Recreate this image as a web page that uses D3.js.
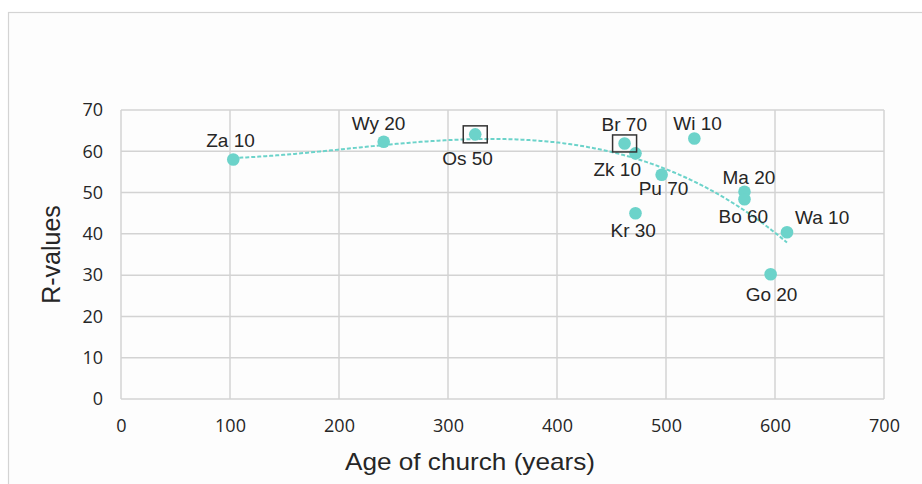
<!DOCTYPE html>
<html>
<head>
<meta charset="utf-8">
<script src="https://cdn.jsdelivr.net/npm/d3@7"></script>
<style>
  html, body { margin: 0; padding: 0; background: #ffffff; }
  svg { display: block; }
</style>
</head>
<body>
<svg id="chart" width="922" height="484"></svg>
<script>
// Church sites: code, sample count, age (years) and R-value
const sites    = ["Za", "Wy", "Os", "Br", "Zk", "Wi", "Pu", "Ma", "Bo", "Kr", "Wa", "Go"];
const counts   = [10, 20, 50, 70, 10, 10, 70, 20, 60, 30, 10, 20];
const ages     = [103, 241, 325, 462, 472, 526, 496, 572, 572, 472, 611, 596];
const rValues  = [58.0, 62.3, 64.1, 61.9, 59.5, 63.1, 54.3, 50.2, 48.4, 45.0, 40.4, 30.2];
const boxed    = ["Os", "Br"];
const xTicks   = [0, 100, 200, 300, 400, 500, 600, 700];
const yTicks   = [0, 10, 20, 30, 40, 50, 60, 70];

// label placement relative to each marker (dx, dy of text start/baseline)
const labelOffsets = {
  Za: [-27, -13], Wy: [-32, -12], Os: [-33, 31], Br: [-23, -12],
  Zk: [-42, 23], Wi: [-21, -8], Pu: [-23, 20], Ma: [-22, -8],
  Bo: [-26, 24], Kr: [-25, 24], Wa: [8, -8], Go: [-25, 27]
};

const svg = d3.select("#chart");
const teal = "#6cd3ca";
const grid = "#d3d3d3";
const ink = "#262626";

// outer panel
svg.append("rect")
  .attr("x", 8.5).attr("y", 12.5).attr("width", 940).attr("height", 500)
  .attr("fill", "#fdfdfd").attr("stroke", "#d4d4d4").attr("stroke-width", 1.2);

const plot = { left: 121, right: 884, top: 110, bottom: 399 };
const x = d3.scaleLinear().domain([0, 700]).range([plot.left, plot.right]);
const y = d3.scaleLinear().domain([0, 70]).range([plot.bottom, plot.top]);

// gridlines
svg.append("g").selectAll("line").data(yTicks).join("line")
  .attr("x1", plot.left).attr("x2", plot.right)
  .attr("y1", d => y(d)).attr("y2", d => y(d))
  .attr("stroke", grid).attr("stroke-width", 1.5);
svg.append("g").selectAll("line").data(xTicks).join("line")
  .attr("x1", d => x(d)).attr("x2", d => x(d))
  .attr("y1", plot.top).attr("y2", plot.bottom)
  .attr("stroke", grid).attr("stroke-width", 1.5);

// axes (labels only, lines are the gridlines)
const xAxis = svg.append("g").attr("transform", `translate(0,${plot.bottom})`)
  .call(d3.axisBottom(x).tickValues(xTicks).tickSize(0).tickPadding(20));
const yAxis = svg.append("g").attr("transform", `translate(${plot.left},0)`)
  .call(d3.axisLeft(y).tickValues(yTicks).tickSize(0).tickPadding(18));
[xAxis, yAxis].forEach(a => {
  a.select(".domain").remove();
  a.selectAll("text").attr("fill", ink)
    .style("font-family", "'Open Sans', sans-serif").style("font-size", "18px");
});

// polynomial trendline (least squares, cubic) over the data range
function polyFit(xs, ys, order) {
  const n = order + 1;
  const A = Array.from({ length: n }, () => new Array(n + 1).fill(0));
  const sx = 100;
  xs.forEach((xv, k) => {
    const t = xv / sx;
    for (let i = 0; i < n; i++) {
      for (let j = 0; j < n; j++) A[i][j] += Math.pow(t, i + j);
      A[i][n] += ys[k] * Math.pow(t, i);
    }
  });
  for (let c = 0; c < n; c++) {
    let p = c;
    for (let r = c + 1; r < n; r++) if (Math.abs(A[r][c]) > Math.abs(A[p][c])) p = r;
    [A[c], A[p]] = [A[p], A[c]];
    for (let r = 0; r < n; r++) {
      if (r === c) continue;
      const f = A[r][c] / A[c][c];
      for (let k = c; k <= n; k++) A[r][k] -= f * A[c][k];
    }
  }
  const coef = A.map((row, i) => row[n] / row[i]);
  return xv => coef.reduce((s, cf, i) => s + cf * Math.pow(xv / sx, i), 0);
}
const fit = polyFit(ages, rValues, 3);
const xMin = d3.min(ages), xMax = d3.max(ages);
const trend = d3.range(xMin, xMax + 0.5, 2).map(v => [v, fit(v)]);
svg.append("path")
  .datum(trend)
  .attr("fill", "none").attr("stroke", teal).attr("stroke-width", 2)
  .attr("stroke-dasharray", "4,2")
  .attr("d", d3.line().x(d => x(d[0])).y(d => y(d[1])));

// markers
const pts = sites.map((s, i) => ({ site: s, n: counts[i], age: ages[i], r: rValues[i] }));
svg.append("g").selectAll("circle").data(pts).join("circle")
  .attr("cx", d => x(d.age)).attr("cy", d => y(d.r)).attr("r", 6.3)
  .attr("fill", teal);

// highlighted samples
svg.append("g").selectAll("rect").data(pts.filter(d => boxed.includes(d.site))).join("rect")
  .attr("x", d => x(d.age) - 12).attr("y", d => y(d.r) - 8.5)
  .attr("width", 24).attr("height", 17)
  .attr("fill", "none").attr("stroke", "#333333").attr("stroke-width", 1.5);

// point labels
svg.append("g").selectAll("text").data(pts).join("text")
  .attr("x", d => x(d.age) + labelOffsets[d.site][0])
  .attr("y", d => y(d.r) + labelOffsets[d.site][1])
  .attr("fill", ink)
  .style("font-family", "'Liberation Sans', Arial, sans-serif").style("font-size", "19px")
  .text(d => `${d.site} ${d.n}`);

// axis titles
svg.append("text")
  .attr("x", 470).attr("y", 470)
  .attr("text-anchor", "middle").attr("fill", ink)
  .attr("textLength", 250).attr("lengthAdjust", "spacingAndGlyphs")
  .style("font-family", "'Liberation Sans', Arial, sans-serif").style("font-size", "24px")
  .text("Age of church (years)");
svg.append("text")
  .attr("transform", `translate(60,${(plot.top + plot.bottom) / 2}) rotate(-90)`)
  .attr("text-anchor", "middle").attr("fill", ink)
  .style("font-family", "'Liberation Sans', Arial, sans-serif").style("font-size", "25px")
  .text("R-values");
</script>
</body>
</html>
